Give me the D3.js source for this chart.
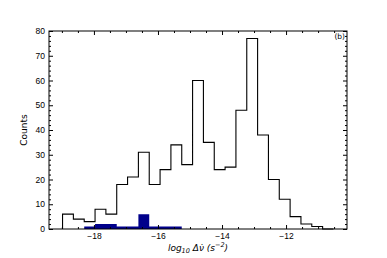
<!DOCTYPE html>
<html lang="en">
<head>
  <meta charset="UTF-8" />
  <title>Histogram (b)</title>
  <script src="https://d3js.org/d3.v7.min.js"></script>
  <style>
    html, body { margin: 0; background: #fff; }
    svg { display: block; font-family: "DejaVu Sans", sans-serif; }
    .tick text { font-size: 8.5px; fill: #000; }
    .axis path, .axis line { stroke: #000; }
  </style>
</head>
<body>
  <svg id="chart" width="387" height="258"></svg>
  <script>
    // histogram bins (25 equal bins) and counts
    const binStart = -18.98;
    const binEnd = -10.52;
    const allCounts = [6, 4, 3, 8, 6, 18, 21, 31, 18, 24, 34, 26, 60, 35, 24, 25, 48, 77, 38, 20, 12, 5, 2, 1, 0];
    const subCounts = [0, 0, 1, 2, 2, 1, 1, 6, 1, 1, 1, 0, 0, 0, 0, 0, 0, 0, 0, 0, 0, 0, 0, 0, 0];
    const xTicks = [-18, -16, -14, -12];
    const yTicks = [0, 10, 20, 30, 40, 50, 60, 70, 80];

    const W = 387, H = 258;
    const m = {left: 49, right: 40, top: 31, bottom: 29};
    const svg = d3.select('#chart');

    const nb = allCounts.length;
    const bw = (binEnd - binStart) / nb;
    const edges = d3.range(nb + 1).map(i => binStart + i * bw);

    const span = binEnd - binStart;
    const x = d3.scaleLinear()
      .domain([binStart - 0.05 * span, binEnd + 0.05 * span])
      .range([m.left, W - m.right]);
    const y = d3.scaleLinear().domain([0, 80]).range([H - m.bottom, m.top]);

    // filled sub-sample histogram
    const pts = [];
    subCounts.forEach((c, i) => {
      pts.push([edges[i], c], [edges[i + 1], c]);
    });
    const fillArea = d3.area()
      .x(d => x(d[0]))
      .y0(y(0))
      .y1(d => y(d[1]));
    svg.append('path')
      .attr('d', fillArea(pts))
      .attr('fill', '#00008b');

    // step outline of the full sample
    const outline = [[edges[0], 0]];
    allCounts.forEach((c, i) => {
      outline.push([edges[i], c], [edges[i + 1], c]);
    });
    outline.push([edges[nb], 0]);
    svg.append('path')
      .attr('d', d3.line().x(d => x(d[0])).y(d => y(d[1]))(outline))
      .attr('fill', 'none')
      .attr('stroke', '#000')
      .attr('stroke-width', 1.1);

    // axes: ticks pointing in on all four sides
    const xMinor = d3.range(-19, -10, 0.5).filter(v => v % 2 !== 0);
    const yMinor = d3.range(0, 81, 2).filter(v => v % 10 !== 0);
    const fmt = d => d3.format('d')(d).replace('-', '\u2212');

    function addAxis(gen, tr, vals, size, labels) {
      const g = svg.append('g').attr('class', 'axis').attr('transform', tr)
        .call(gen.tickValues(vals).tickSize(size).tickFormat(labels ? fmt : ''));
      g.select('.domain').remove();
      return g;
    }
    const bY = H - m.bottom, rX = W - m.right;

    const xb = addAxis(d3.axisBottom(x), `translate(0,${bY})`, xTicks, -4, true);
    xb.selectAll('text').attr('y', 4).attr('dy', '0.71em');
    addAxis(d3.axisBottom(x), `translate(0,${bY})`, xMinor, -2, false);
    addAxis(d3.axisTop(x), `translate(0,${m.top})`, xTicks, -4, false);
    addAxis(d3.axisTop(x), `translate(0,${m.top})`, xMinor, -2, false);

    const yl = addAxis(d3.axisLeft(y), `translate(${m.left},0)`, yTicks, -4, true);
    yl.selectAll('text').attr('x', -4);
    addAxis(d3.axisLeft(y), `translate(${m.left},0)`, yMinor, -2, false);
    addAxis(d3.axisRight(y), `translate(${rX},0)`, yTicks, -4, false);
    addAxis(d3.axisRight(y), `translate(${rX},0)`, yMinor, -2, false);

    svg.append('rect')
      .attr('x', m.left).attr('y', m.top)
      .attr('width', rX - m.left).attr('height', bY - m.top)
      .attr('fill', 'none').attr('stroke', '#000').attr('stroke-width', 1);

    // labels
    svg.append('text')
      .attr('transform', `translate(27,${(m.top + bY) / 2}) rotate(-90)`)
      .attr('text-anchor', 'middle')
      .attr('font-size', 9)
      .text('Counts');

    const xl = svg.append('text')
      .attr('x', (m.left + rX) / 2).attr('y', 251)
      .attr('text-anchor', 'middle')
      .attr('font-size', 9)
      .attr('font-style', 'italic');
    xl.append('tspan').text('log');
    xl.append('tspan').attr('font-size', 6.5).attr('dy', 2).text('10');
    xl.append('tspan').attr('dy', -2).text(' \u0394\u03bd\u0307 (s');
    xl.append('tspan').attr('font-size', 6.5).attr('dy', -4).text('\u2212' + '2');
    xl.append('tspan').attr('dy', 4).text(')');

    svg.append('text')
      .attr('x', rX - 2).attr('y', m.top + 8)
      .attr('text-anchor', 'end')
      .attr('font-size', 7.5)
      .text('(b)');
  </script>
</body>
</html>
